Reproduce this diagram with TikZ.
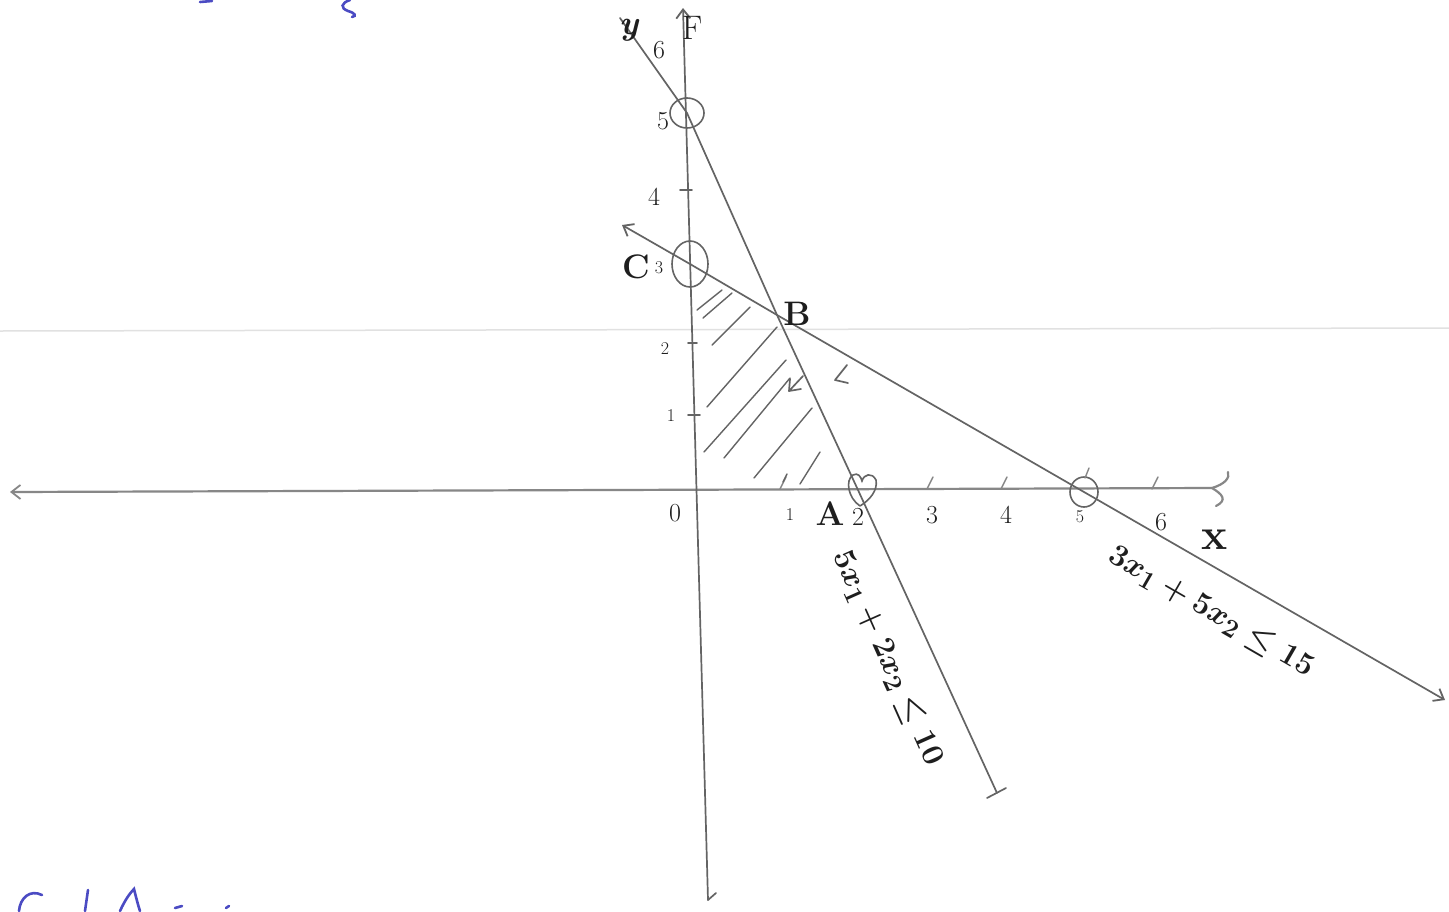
\documentclass[tikz,border=0pt]{standalone}
\usepackage{graphicx}
\usetikzlibrary{arrows.meta}
\definecolor{pencilc}{RGB}{100,100,100}
\definecolor{axisc}{RGB}{135,135,135}
\definecolor{inkc}{RGB}{30,30,30}
\definecolor{bluec}{RGB}{75,75,195}
\definecolor{foldc}{RGB}{225,225,225}
\begin{document}
\begin{tikzpicture}[x=1pt,y=-1pt,
  pencil/.style={draw=pencilc, line width=1.7pt, line cap=round, line join=round},
  axisl/.style={draw=axisc, line width=2.2pt, line cap=round},
  hatch/.style={draw=pencilc, line width=1.4pt, line cap=round},
  ring/.style={draw=pencilc, line width=1.6pt},
  barb/.style={-{Straight Barb[length=9pt,width=14pt,line width=1.8pt]}},
  lbl/.style={text=inkc, inner sep=0pt, font=\fontsize{26}{28}\selectfont},
  small/.style={text=inkc, inner sep=0pt, font=\fontsize{18}{20}\selectfont},
  big/.style={text=inkc, inner sep=0pt, font=\fontsize{34}{36}\selectfont\bfseries},
  eqn/.style={text=inkc, inner sep=0pt, font=\fontsize{24.88}{27}\selectfont\boldmath},
  blueink/.style={draw=bluec, line width=2.6pt, line cap=round}]
\fill[white] (0,0) rectangle (1449,911);
\useasboundingbox (0,0) rectangle (1449,911);
% paper fold
\draw[foldc, line width=1.5pt] (0,331) -- (1449,328);
% key points
\coordinate (Ytop) at (683,8);
\coordinate (Ybot) at (708,900);
\coordinate (Xleft) at (10,492);
\coordinate (Xright) at (1212,488);
\coordinate (P5) at (687,113);
\coordinate (C) at (690,264);
\coordinate (B) at (777,315);
\coordinate (A) at (858,490);
\coordinate (X5) at (1084,492);
\coordinate (L1top) at (620,18);
\coordinate (L1end) at (997,793);
\coordinate (L2start) at (622,225);
\coordinate (L2end) at (1445,700);
% axes
\draw[axisl, barb] (Xright) -- (Xleft);
\draw[axisl] (1212,488) .. controls (1225,484) and (1230,478) .. (1228,472);
\draw[axisl] (1212,488) .. controls (1222,494) and (1228,500) .. (1216,506);
\draw[pencil, barb] (Ybot) -- (Ytop);
\draw[pencil] (Ybot) -- (716,893);
% constraint lines
\draw[pencil] (L1top) -- (P5) -- (B) -- (A) -- (L1end);
\draw[pencil] (987,798) -- (1006,788);
\draw[pencil, {Straight Barb[length=9pt,width=14pt,line width=1.8pt]}-{Straight Barb[length=9pt,width=14pt,line width=1.8pt]}] (L2start) -- (C) -- (B) -- (X5) -- (L2end);
% circled intercepts
\draw[ring] (P5) ellipse [x radius=17, y radius=15];
\draw[ring] (C) ellipse [x radius=18, y radius=23];
\draw[ring] (X5) ellipse [x radius=14, y radius=15];
\draw[ring] (860,506) .. controls (848,498) and (845,480) .. (853,475) .. controls (858,472) and (861,477) .. (862,481) .. controls (864,474) and (872,472) .. (876,480) .. controls (878,490) and (870,500) .. (860,506);
% axis ticks
\draw[pencil] (680,190) -- (692,190);
\draw[pencil] (688,343) -- (697,343);
\draw[pencil] (688,415) -- (700,415);
\foreach \tx in {783,930,1004,1155}
  \draw[hatch, draw=axisc] (\tx-3,489) -- (\tx+3,477);
\draw[hatch, draw=axisc] (1085,478) -- (1089,468);
% hatching of feasible region
\draw[hatch] (697,310) -- (722,290);
\draw[hatch] (703,318) -- (732,293);
\draw[hatch] (712,345) -- (750,307);
\draw[hatch] (707,407) -- (777,327);
\draw[hatch] (704,452) -- (786,360);
\draw[hatch] (724,458) -- (790,378);
\draw[hatch] (754,478) -- (812,408);
\draw[hatch] (783,482) -- (787,474);
\draw[hatch] (800,484) -- (820,452);
% direction marks
\draw[pencil] (803,376) -- (789,391) -- (801,389);
\draw[pencil] (789,391) -- (790,379);
\draw[pencil] (847,365) -- (835,380) -- (848,383);
% labels
\node[big] (ly) at (630,30) {\textit{y}};
\node[lbl] (l6y) at (659,50) {6};
\node[lbl, font=\fontsize{34}{36}\selectfont] (lF) at (692,28) {F};
\node[lbl] (l5y) at (663,121) {5};
\node[lbl] (l4y) at (654,197) {4};
\node[big] (lC) at (636,267) {C};
\node[small] (l3y) at (659,268) {3};
\node[big] (lB) at (797,314) {B};
\node[small] (l2y) at (665,349) {2};
\node[small] (l1y) at (671,416) {1};
\node[lbl] (l0) at (675,513) {0};
\node[small] (l1x) at (790,515) {1};
\node[big] (lA) at (830,514) {A};
\node[lbl] (l2x) at (858,517) {2};
\node[lbl] (l3x) at (932,515) {3};
\node[lbl] (l4x) at (1006,515) {4};
\node[small] (l5x) at (1080,517) {5};
\node[lbl] (l6x) at (1161,522) {6};
\node[big, font=\fontsize{44}{46}\selectfont\bfseries] (lx) at (1215,540) {x};
\node[eqn, rotate=-66] (eq1) at (887,658) {\scalebox{1.25}{$5x_1+2x_2\le 10$}};
\node[eqn, rotate=-30] (eq2) at (1211,612) {\scalebox{1.25}{$3x_1+5x_2\le 15$}};
% cropped blue handwriting at the page edges
\draw[blueink] (200,2) -- (212,1);
\draw[blueink] (350,0) .. controls (341,3) and (340,8) .. (348,11) .. controls (355,13) and (357,16) .. (352,17);
\draw[blueink] (42,895) .. controls (30,889) and (20,898) .. (19,911);
\draw[blueink] (88,890) -- (85,911);
\draw[blueink] (120,911) .. controls (125,900) and (130,893) .. (134,889) .. controls (136,897) and (138,905) .. (140,911);
\draw[blueink] (175,908) -- (182,906);
\draw[blueink] (226,908) -- (229,906);
\end{tikzpicture}
\end{document}
